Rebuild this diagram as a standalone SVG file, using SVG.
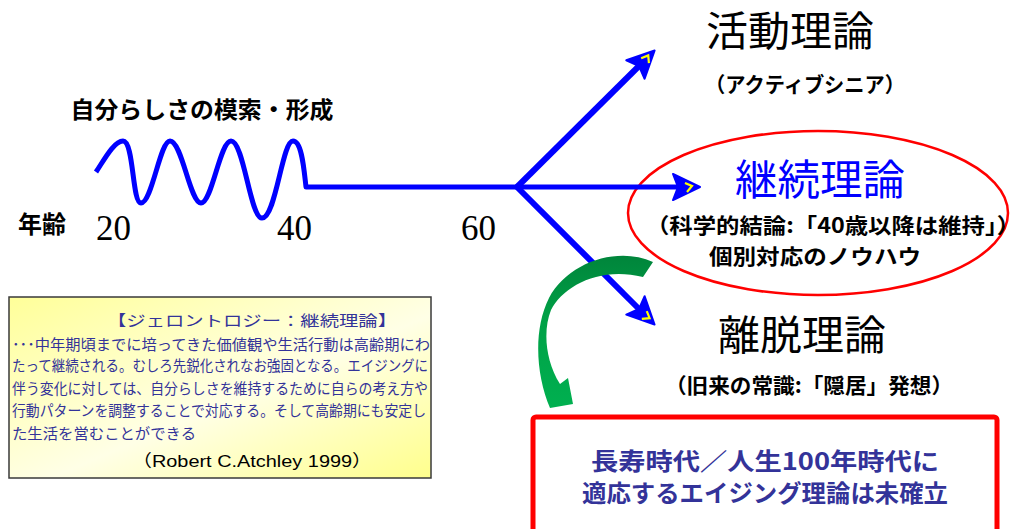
<svg xmlns="http://www.w3.org/2000/svg" width="1017" height="529" viewBox="0 0 1017 529">
  <style>
    .jp { font-family: "Noto Sans CJK JP", "Noto Sans", sans-serif; }
    .b { font-weight: 700; }
    .title { font-size: 41px; fill: #000; }
    .sub { font-size: 21px; fill: #000; font-weight: 700; }
    .num { font-family: "Liberation Serif", serif; font-size: 35px; fill: #000; }
    .box { font-size: 15px; fill: #333399; }
    .blue { stroke: #0000ff; fill: none; stroke-linecap: butt; stroke-linejoin: round; }
    .navy { fill: #333399; font-weight: 700; font-size: 24px; }
  </style>
  <defs>
    <marker id="arr" markerUnits="userSpaceOnUse" markerWidth="40" markerHeight="40" refX="5" refY="13" orient="auto" overflow="visible">
      <path d="M0,0 L27,13 L0,26 L5,13 Z" fill="#0000ff" stroke="#0000ff" stroke-width="2" stroke-linejoin="round"/>
      <path d="M12,9 L19,12 L14,18" fill="none" stroke="#ffff00" stroke-width="2.2"/>
    </marker>
    <linearGradient id="yel" x1="0" y1="0" x2="1" y2="1">
      <stop offset="0" stop-color="#ffff99"/>
      <stop offset="0.55" stop-color="#ffffe6"/>
      <stop offset="1" stop-color="#ffff8c"/>
    </linearGradient>
    <linearGradient id="grn" x1="0" y1="0" x2="0" y2="1">
      <stop offset="0" stop-color="#00853b"/>
      <stop offset="0.4" stop-color="#00a046"/>
      <stop offset="1" stop-color="#00b050"/>
    </linearGradient>
  </defs>

  <!-- continuity ellipse -->
  <g id="continuity-ellipse">
    <ellipse cx="818" cy="213" rx="190" ry="82" fill="none" stroke="#ff0000" stroke-width="2.5"/>
  </g>

  <!-- connectors -->
  <g id="connectors">
    <path class="blue" stroke-width="5" d="M96,172 C104,160 114,141 123,141 C134,141 132,203 141,203 C152,203 160,141 170,141 C182,141 190,203 201,203 C212,203 220,141 231,141 C244,141 250,218 262,218 C276,218 282,141 293,141 C302,141 304,170 306,187 L518,187"/>
    <line class="blue" stroke-width="6" x1="517" y1="187" x2="639" y2="66" marker-end="url(#arr)"/>
    <line class="blue" stroke-width="5" x1="517" y1="187" x2="678" y2="187" marker-end="url(#arr)"/>
    <line class="blue" stroke-width="6" x1="517" y1="187" x2="639" y2="309" marker-end="url(#arr)"/>
    <path id="green-arrow" fill="url(#grn)" d="M653,262 C618,246 568,262 549,298 C533,330 536,375 550,408 L573,404 L568,378 L560,384 C545,360 543,330 551,310 C563,286 600,266 643,277 Z"/>
  </g>

  <!-- labels left -->
  <g id="self-search">
    <text class="jp b" x="202" y="118" font-size="23" text-anchor="middle" textLength="263" lengthAdjust="spacingAndGlyphs">自分らしさの模索・形成</text>
  </g>
  <g id="age-axis">
    <text class="jp b" x="42" y="233" font-size="24" text-anchor="middle">年齢</text>
    <text class="num" x="96" y="240">20</text>
    <text class="num" x="277" y="240">40</text>
    <text class="num" x="461" y="240">60</text>
  </g>

  <!-- activity theory -->
  <g id="activity-theory">
    <text class="jp title" x="790" y="46" text-anchor="middle" textLength="168" lengthAdjust="spacingAndGlyphs">活動理論</text>
    <text class="jp sub" x="805" y="92" text-anchor="middle" textLength="200" lengthAdjust="spacingAndGlyphs">（アクティブシニア）</text>
  </g>

  <!-- continuity theory -->
  <g id="continuity-theory">
    <text class="jp" x="820" y="195" font-size="42" fill="#0000ff" text-anchor="middle" textLength="170" lengthAdjust="spacingAndGlyphs">継続理論</text>
    <text class="jp sub" x="833" y="233" text-anchor="middle" textLength="374" lengthAdjust="spacingAndGlyphs">（科学的結論:「40歳以降は維持」）</text>
    <text class="jp sub" x="815" y="264" text-anchor="middle" textLength="212" lengthAdjust="spacingAndGlyphs">個別対応のノウハウ</text>
  </g>

  <!-- disengagement theory -->
  <g id="disengagement-theory">
    <text class="jp title" x="802" y="350" text-anchor="middle" textLength="168" lengthAdjust="spacingAndGlyphs">離脱理論</text>
    <text class="jp sub" x="809" y="393" text-anchor="middle" textLength="288" lengthAdjust="spacingAndGlyphs">（旧来の常識:「隠居」発想）</text>
  </g>

  <!-- gerontology box -->
  <g id="gerontology-box">
    <rect x="9" y="297" width="422" height="181" fill="url(#yel)" stroke="#3a3a3a" stroke-width="1.5"/>
    <text class="jp box" x="252" y="326" font-size="18.5" text-anchor="middle" textLength="290" lengthAdjust="spacingAndGlyphs">【ジェロントロジー：継続理論】</text>
    <text class="jp box" x="12" y="350" textLength="418" lengthAdjust="spacingAndGlyphs">･･･中年期頃までに培ってきた価値観や生活行動は高齢期にわ</text>
    <text class="jp box" x="12" y="371" textLength="416" lengthAdjust="spacingAndGlyphs">たって継続される。むしろ先鋭化されなお強固となる。エイジングに</text>
    <text class="jp box" x="12" y="394" textLength="416" lengthAdjust="spacingAndGlyphs">伴う変化に対しては、自分らしさを維持するために自らの考え方や</text>
    <text class="jp box" x="12" y="416" textLength="414" lengthAdjust="spacingAndGlyphs">行動パターンを調整することで対応する。そして高齢期にも安定し</text>
    <text class="jp box" x="12" y="439" textLength="184" lengthAdjust="spacingAndGlyphs">た生活を営むことができる</text>
    <text x="252" y="467" font-family="Liberation Sans, Noto Sans CJK JP, sans-serif" font-size="17" fill="#000" text-anchor="middle" textLength="240" lengthAdjust="spacingAndGlyphs">（Robert C.Atchley 1999）</text>
  </g>

  <!-- conclusion box -->
  <g id="conclusion-box">
    <rect x="533" y="417" width="464" height="130" rx="3" fill="#ffffff" stroke="#ff0000" stroke-width="5"/>
    <text class="jp navy" x="765" y="470" text-anchor="middle" textLength="348" lengthAdjust="spacingAndGlyphs">長寿時代／人生100年時代に</text>
    <text class="jp navy" x="765" y="502" text-anchor="middle" textLength="366" lengthAdjust="spacingAndGlyphs">適応するエイジング理論は未確立</text>
  </g>
</svg>
